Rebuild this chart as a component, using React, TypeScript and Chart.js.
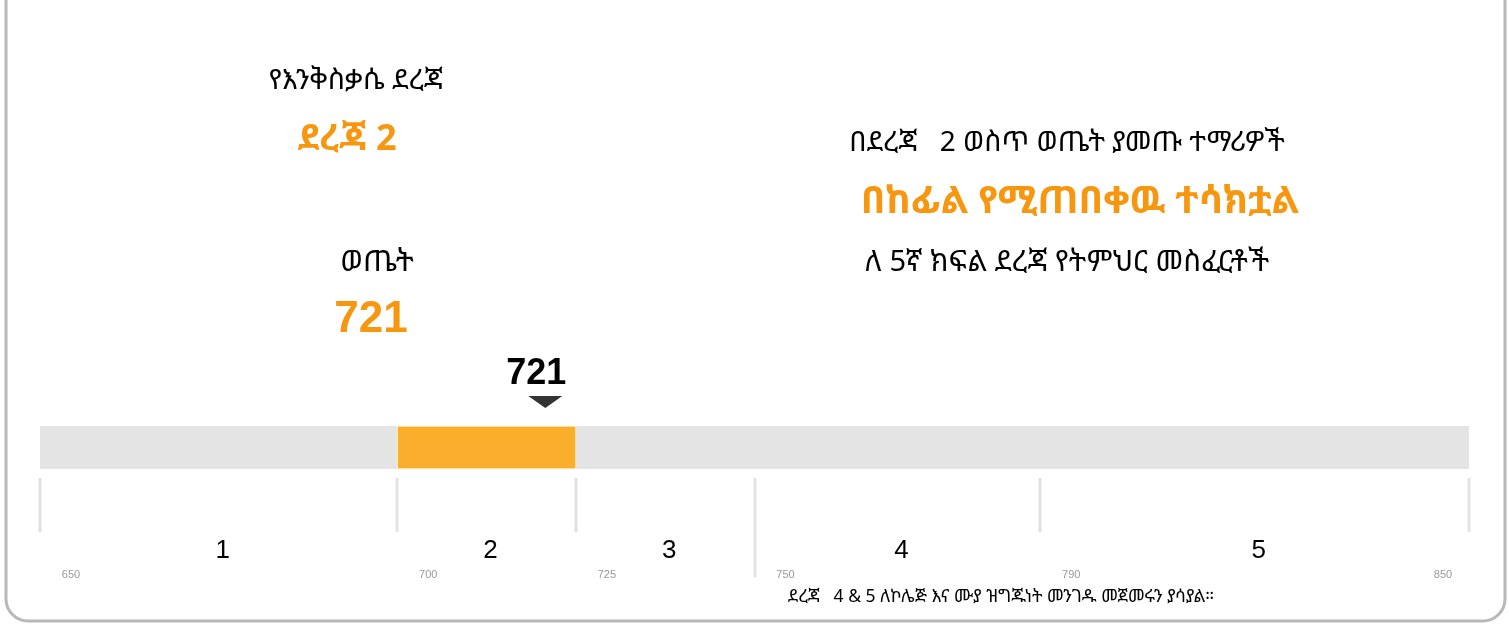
import React, { useEffect, useRef } from "react";
import { Chart, registerables } from "chart.js";

Chart.register(...registerables);

// ---- data ----
const levelBoundaries = [650, 700, 725, 750, 790, 850];
const levelNames = ["1", "2", "3", "4", "5"];
const tickLabels = ["650", "700", "725", "750", "790", "850"];
const studentScore = 721;
const studentLevel = 2;
const scoreRange = [650, 850];

const titleLevel = "የእንቅስቃሴ ደረጃ";
const levelText = "ደረጃ 2";
const titleScore = "ወጤት";
const rightLine1 = "በደረጃ   2 ወስጥ ወጤት ያመጡ ተማሪዎች";
const rightLine2 = "በከፊል የሚጠበቀዉ ተሳክቷል";
const rightLine3 = "ለ 5ኛ ክፍል ደረጃ የትምህር መስፈርቶች";
const footerText = "ደረጃ   4 & 5 ለኮሌጅ እና ሙያ ዝግጁነት መንገዱ መጀመሩን ያሳያል።";

const ORANGE = "#F7960F";
const BAR_ORANGE = "#FBAE2C";
const ETH = '"Noto Sans Ethiopic", "Abyssinica SIL", "Noto Serif Ethiopic", "FreeSerif", "Noto Sans", sans-serif';
const ARIAL = '"Liberation Sans", Arial, sans-serif';

const overlayPlugin = {
  id: "overlay",
  beforeDraw(chart: any) {
    const ctx = chart.ctx;
    ctx.save();
    ctx.strokeStyle = "#b8b8b8";
    ctx.lineWidth = 3;
    ctx.beginPath();
    (ctx as any).roundRect(6, -30, 1499, 651, 22);
    ctx.stroke();
    ctx.restore();
  },
  afterDraw(chart: any) {
    const ctx = chart.ctx;
    const xs = chart.scales.x;
    const area = chart.chartArea;
    ctx.save();
    // boundary lines
    ctx.strokeStyle = "#e2e2e2";
    ctx.lineWidth = 3;
    levelBoundaries.forEach((b) => {
      const x = Math.round(xs.getPixelForValue(b));
      ctx.beginPath();
      ctx.moveTo(x, area.bottom + 9);
      ctx.lineTo(x, b === 750 ? area.bottom + 108 : area.bottom + 63);
      ctx.stroke();
    });
    // level names
    ctx.fillStyle = "#000";
    ctx.font = `26px ${ARIAL}`;
    ctx.textAlign = "center";
    ctx.textBaseline = "alphabetic";
    levelNames.forEach((n, i) => {
      const x = (xs.getPixelForValue(levelBoundaries[i]) + xs.getPixelForValue(levelBoundaries[i + 1])) / 2;
      ctx.fillText(n, x + 4, area.bottom + 89);
    });
    // tick labels
    ctx.fillStyle = "#999";
    ctx.font = `11px ${ARIAL}`;
    tickLabels.forEach((t, i) => {
      const x = xs.getPixelForValue(levelBoundaries[i]);
      const dx = i === tickLabels.length - 1 ? -26 : 31;
      ctx.fillText(t, x + dx, area.bottom + 109);
    });
    // marker
    const mx = xs.getPixelForValue(studentScore) - 2;
    ctx.fillStyle = "#333";
    ctx.beginPath();
    ctx.moveTo(mx - 17, area.top - 30);
    ctx.lineTo(mx + 17, area.top - 30);
    ctx.lineTo(mx, area.top - 18);
    ctx.closePath();
    ctx.fill();
    ctx.fillStyle = "#000";
    ctx.font = `bold 36px ${ARIAL}`;
    ctx.fillText(String(studentScore), mx - 9, area.top - 42);

    // left column texts
    ctx.font = `28px ${ETH}`;
    ctx.fillText(titleLevel, 356, 89);
    ctx.fillStyle = ORANGE;
    ctx.font = `bold 36px ${ETH}`;
    ctx.fillText(levelText, 347, 150);
    ctx.fillStyle = "#000";
    ctx.font = `30px ${ETH}`;
    ctx.fillText(titleScore, 377, 271);
    ctx.fillStyle = ORANGE;
    ctx.font = `bold 44px ${ARIAL}`;
    ctx.fillText(String(studentScore), 371, 332);

    // right column
    ctx.fillStyle = "#000";
    ctx.font = `28px ${ETH}`;
    ctx.fillText(rightLine1, 1067, 151);
    ctx.fillStyle = ORANGE;
    ctx.font = `bold 38px ${ETH}`;
    ctx.fillText(rightLine2, 1080, 213);
    ctx.fillStyle = "#000";
    ctx.font = `29px ${ETH}`;
    ctx.fillText(rightLine3, 1067, 271);

    // footer
    ctx.font = `17.5px ${ETH}`;
    ctx.fillText(footerText, 1001, 602);
    ctx.restore();
  },
};

export default function App() {
  const ref = useRef<HTMLCanvasElement>(null);
  useEffect(() => {
    if (!ref.current) return;
    const lo = levelBoundaries[studentLevel - 1];
    const hi = levelBoundaries[studentLevel];
    const chart = new Chart(ref.current, {
      type: "bar",
      data: {
        labels: ["score"],
        datasets: [
          {
            data: [[lo, hi]] as any,
            backgroundColor: BAR_ORANGE,
            borderColor: "#FFF1B8",
            borderWidth: 1,
            borderSkipped: false,
            grouped: false,
            barPercentage: 1,
            categoryPercentage: 1,
          } as any,
          {
            data: [scoreRange] as any,
            backgroundColor: "#E4E4E4",
            grouped: false,
            barPercentage: 1,
            categoryPercentage: 1,
          } as any,
        ],
      },
      options: {
        indexAxis: "y",
        responsive: false,
        animation: false,
        layout: { padding: { left: 40, right: 40, top: 426, bottom: 155 } },
        plugins: { legend: { display: false }, tooltip: { enabled: false } },
        scales: {
          x: { min: scoreRange[0], max: scoreRange[1], display: false },
          y: { display: false },
        },
      },
      plugins: [overlayPlugin],
    });
    return () => chart.destroy();
  }, []);
  return (
    <canvas
      ref={ref}
      width={1509}
      height={624}
      style={{ position: "absolute", left: 0, top: 0, width: 1509, height: 624 }}
    />
  );
}
